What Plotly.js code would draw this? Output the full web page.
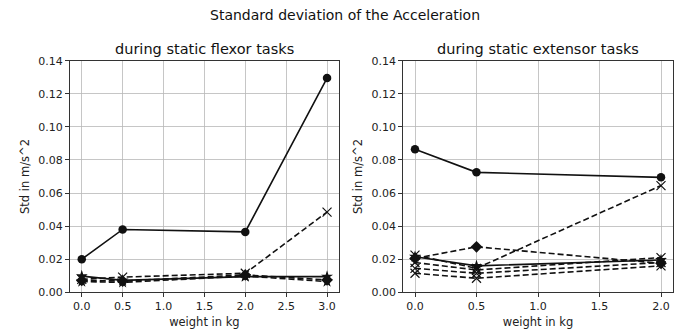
<!DOCTYPE html>
<html><head><meta charset="utf-8">
<script src="https://cdn.plot.ly/plotly-3.0.1.min.js"></script>
<style>html,body{margin:0;padding:0;background:#fff}</style>
</head><body><div id="chart" style="width:683px;height:335px"></div>
<script>
const flexorWeights = [0.0, 0.5, 2.0, 3.0];
const extensorWeights = [0.0, 0.5, 2.0];

const flexorSeries = [
  {name: "s1", values: [0.020, 0.038, 0.0365, 0.1295], dash: "solid", symbol: "circle"},
  {name: "s2", values: [0.0098, 0.0072, 0.0095, 0.0095], dash: "solid", symbol: "star"},
  {name: "s3", values: [0.0078, 0.0092, 0.0115, 0.0485], dash: "dash", symbol: "x-thin"},
  {name: "s4", values: [0.0065, 0.0060, 0.0098, 0.0065], dash: "dash", symbol: "star"},
  {name: "s5", values: [0.0072, 0.0068, 0.0105, 0.0075], dash: "dash", symbol: "diamond"}
];
const extensorSeries = [
  {name: "s1", values: [0.0865, 0.0725, 0.0695], dash: "solid", symbol: "circle"},
  {name: "s2", values: [0.0215, 0.0160, 0.0195], dash: "solid", symbol: "star"},
  {name: "s3", values: [0.0225, 0.0145, 0.0645], dash: "dash", symbol: "x-thin"},
  {name: "s4", values: [0.0205, 0.0275, 0.0175], dash: "dash", symbol: "diamond"},
  {name: "s5", values: [0.0180, 0.0135, 0.0210], dash: "dash", symbol: "x-thin"},
  {name: "s6", values: [0.0145, 0.0115, 0.0180], dash: "dash", symbol: "x-thin"},
  {name: "s7", values: [0.0115, 0.0085, 0.0160], dash: "dash", symbol: "x-thin"}
];

const mainTitle = "Standard deviation of the Acceleration";
const leftTitle = "during static flexor tasks";
const rightTitle = "during static extensor tasks";
const xTitle = "weight in kg";
const yTitle = "Std in m/s^2";

function mk(s, xs, xa, ya) {
  const isX = s.symbol === "x-thin";
  return {
    x: xs, y: s.values, xaxis: xa, yaxis: ya, mode: "lines+markers", showlegend: false,
    line: {color: "#111", width: 1.6, dash: s.dash === "dash" ? "6px,3px" : "solid"},
    marker: {symbol: s.symbol, color: "#111", size: s.symbol === "circle" ? 8.5 : 9,
             line: {color: "#111", width: isX ? 1.2 : 0}}
  };
}
const traces = [];
flexorSeries.forEach(s => traces.push(mk(s, flexorWeights, "x", "y")));
extensorSeries.forEach(s => traces.push(mk(s, extensorWeights, "x2", "y2")));

const font = {family: "DejaVu Sans", size: 11, color: "#222"};
const labelFont = {family: "DejaVu Sans", size: 11.5, color: "#222"};
const titleFont = {family: "DejaVu Sans", size: 14, color: "#111"};
const subTitleFont = {family: "DejaVu Sans", size: 14.5, color: "#111"};
const yTop = (335 - 60.7) / 335, yBot = (335 - 292.3) / 335;
function xax(dom, range, tickvals) {
  return {domain: dom, range: range, tickvals: tickvals, ticktext: tickvals.map(v => v.toFixed(1)),
    showgrid: true, gridcolor: "#b8b8b8", gridwidth: 0.8, zeroline: false,
    showline: true, linecolor: "#333", linewidth: 1, mirror: true,
    ticks: "outside", ticklen: 3.5, tickcolor: "#333", tickfont: font,
    title: {text: xTitle, font: labelFont, standoff: 5}};
}
function yax(anchor) {
  return {domain: [yBot, yTop], range: [0, 0.14], anchor: anchor,
    tickvals: [0, 0.02, 0.04, 0.06, 0.08, 0.10, 0.12, 0.14],
    ticktext: ["0.00", "0.02", "0.04", "0.06", "0.08", "0.10", "0.12", "0.14"],
    showgrid: true, gridcolor: "#b8b8b8", gridwidth: 0.8, zeroline: false,
    showline: true, linecolor: "#333", linewidth: 1, mirror: true,
    ticks: "outside", ticklen: 3.5, tickcolor: "#333", tickfont: font,
    title: {text: yTitle, font: labelFont, standoff: 6}};
}
const layout = {
  width: 683, height: 335, margin: {l: 0, r: 0, t: 0, b: 0},
  paper_bgcolor: "#fff", plot_bgcolor: "#fff", font: font,
  xaxis: Object.assign(xax([69.5 / 683, 339.3 / 683], [-0.15, 3.15], [0, 0.5, 1.0, 1.5, 2.0, 2.5, 3.0]), {anchor: "y"}),
  yaxis: yax("x"),
  xaxis2: Object.assign(xax([402.7 / 683, 673.3 / 683], [-0.1, 2.1], [0, 0.5, 1.0, 1.5, 2.0]), {anchor: "y2"}),
  yaxis2: yax("x2"),
  annotations: [
    {text: mainTitle, xref: "paper", yref: "paper", x: 345 / 683, y: 1 - 15 / 335, xanchor: "center", yanchor: "middle", showarrow: false, font: titleFont},
    {text: leftTitle, xref: "paper", yref: "paper", x: (69.5 + 339.3) / 2 / 683, y: 1 - 49 / 335, xanchor: "center", yanchor: "middle", showarrow: false, font: subTitleFont},
    {text: rightTitle, xref: "paper", yref: "paper", x: (402.7 + 673.3) / 2 / 683, y: 1 - 49 / 335, xanchor: "center", yanchor: "middle", showarrow: false, font: subTitleFont}
  ]
};
Plotly.newPlot("chart", traces, layout, {staticPlot: true, displayModeBar: false});
</script></body></html>
